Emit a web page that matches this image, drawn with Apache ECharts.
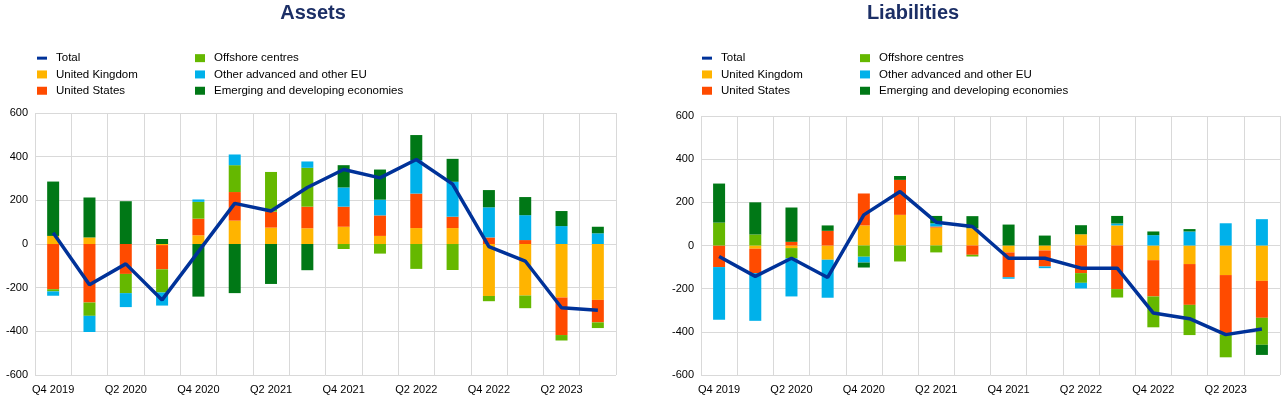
<!DOCTYPE html>
<html>
<head>
<meta charset="utf-8">
<script src="https://cdn.jsdelivr.net/npm/echarts@6/dist/echarts.min.js"></script>
<style>
  html, body { margin: 0; padding: 0; background: #ffffff; }
  #chart { width: 1286px; height: 398px; }
</style>
</head>
<body>
<div id="chart"></div>
<script>
// quarters Q4 2019 .. Q3 2023
const quarters = ['Q4 2019', 'Q1 2020', 'Q2 2020', 'Q3 2020', 'Q4 2020', 'Q1 2021', 'Q2 2021', 'Q3 2021',
    'Q4 2021', 'Q1 2022', 'Q2 2022', 'Q3 2022', 'Q4 2022', 'Q1 2023', 'Q2 2023', 'Q3 2023'];

const yTicks = { min: -600, max: 600, interval: 200 };

// Assets
const assetsUK = [37, 30, 0, -5, 40, 107, 75, 72, 79, 37, 73, 73, -238, -236, -245, -256];
const assetsUS = [-207, -268, -137, -111, 76, 131, 73, 99, 92, 94, 158, 52, 30, 18, -172, -103];
const assetsOffshore = [-10, -61, -88, -106, 77, 123, 182, 178, -23, -44, -114, -119, -24, -58, -25, -26];
const assetsOther = [-20, -74, -64, -60, 11, 49, 0, 29, 88, 72, 153, 160, 138, 114, 82, 49];
const assetsEM = [249, 183, 196, 23, -241, -225, -183, -120, 102, 138, 115, 105, 79, 83, 69, 30];
const assetsTotal = [52, -187, -91, -256, -35, 186, 151, 259, 341, 303, 387, 274, -12, -78, -292, -303];

// Liabilities
const liabUK = [0, -15, -12, -66, 93, 142, 83, 80, -32, -23, 52, 93, -68, -86, -137, -164];
const liabUS = [-100, -113, 17, 68, 148, 162, 5, -43, -115, -74, -128, -202, -168, -189, -276, -171];
const liabOffshore = [106, 51, -47, 0, -52, -74, -32, -8, 0, 0, -45, -39, -143, -140, -105, -125];
const liabOther = [-244, -221, -177, -176, -27, 0, 15, 0, -7, -8, -26, 9, 48, 65, 103, 122];
const liabEM = [181, 149, 159, 25, -23, 18, 34, 56, 97, 46, 42, 35, 17, 11, 0, -47];
const liabTotal = [-51, -143, -59, -148, 142, 250, 108, 88, -59, -59, -105, -105, -313, -339, -413, -387];

const names = ['Total', 'United Kingdom', 'United States', 'Offshore centres',
    'Other advanced and other EU', 'Emerging and developing economies'];
const colors = ['#003299', '#ffb400', '#ff4b00', '#65b800', '#00b1ea', '#007816'];

const chart = echarts.init(document.getElementById('chart'), null, { renderer: 'canvas' });

const font = 'Liberation Sans, Arial, sans-serif';

function legend(left, data) {
    return {
        orient: 'vertical',
        left: left,
        top: 50,
        itemWidth: 10,
        itemHeight: 8,
        itemGap: 0,
        padding: 0,
        selectedMode: false,
        textStyle: { fontFamily: font, fontSize: 11.5, color: '#000', lineHeight: 16.3, padding: [0, 0, 0, 4] },
        data: data.map(function (n) {
            if (n === 'Total') {
                return { name: n, icon: 'path://M0,0L10,0L10,3L0,3Z', itemStyle: { color: colors[0] } };
            }
            return { name: n, icon: 'rect' };
        })
    };
}

function xAxis(idx) {
    return {
        type: 'category',
        gridIndex: idx,
        data: quarters,
        boundaryGap: true,
        position: 'bottom',
        axisLine: { show: false, onZero: false },
        axisTick: { show: false },
        axisLabel: { interval: 1, fontFamily: font, fontSize: 11, color: '#000', margin: 9 },
        splitLine: { show: true, interval: 0, lineStyle: { color: '#d9d9d9', width: 1 } }
    };
}

function yAxis(idx) {
    return {
        type: 'value',
        gridIndex: idx,
        min: yTicks.min,
        max: yTicks.max,
        interval: yTicks.interval,
        axisLine: { show: false },
        axisTick: { show: false },
        axisLabel: { fontFamily: font, fontSize: 11, color: '#000', margin: 7 },
        splitLine: { lineStyle: { color: '#d9d9d9', width: 1 } }
    };
}

function bars(idx, stack, values) {
    return values.map(function (v, i) {
        return {
            name: names[i + 1],
            type: 'bar',
            xAxisIndex: idx,
            yAxisIndex: idx,
            stack: stack,
            barWidth: 12,
            itemStyle: { color: colors[i + 1] },
            data: v
        };
    });
}

function totalLine(idx, values) {
    return {
        name: 'Total',
        type: 'line',
        xAxisIndex: idx,
        yAxisIndex: idx,
        symbol: 'none',
        z: 5,
        lineStyle: { color: colors[0], width: 3.5 },
        itemStyle: { color: colors[0] },
        data: values
    };
}

var option = {
    backgroundColor: '#ffffff',
    animation: false,
    color: colors,
    title: [
        { text: 'Assets', left: 308, top: -2, textAlign: 'center',
          textStyle: { fontFamily: font, fontSize: 20, fontWeight: 'bold', color: '#1c2f66' } },
        { text: 'Liabilities', left: 908, top: -2, textAlign: 'center',
          textStyle: { fontFamily: font, fontSize: 20, fontWeight: 'bold', color: '#1c2f66' } }
    ],
    legend: [
        legend(37, names.slice(0, 3)),
        legend(195, names.slice(3)),
        legend(702, names.slice(0, 3)),
        legend(860, names.slice(3))
    ],
    grid: [
        { left: 35, right: 670, top: 113, bottom: 23 },
        { left: 701, right: 6, top: 116, bottom: 23 }
    ],
    xAxis: [xAxis(0), xAxis(1)],
    yAxis: [yAxis(0), yAxis(1)],
    series: []
        .concat(bars(0, 'assets', [assetsUK, assetsUS, assetsOffshore, assetsOther, assetsEM]))
        .concat([totalLine(0, assetsTotal)])
        .concat(bars(1, 'liab', [liabUK, liabUS, liabOffshore, liabOther, liabEM]))
        .concat([totalLine(1, liabTotal)])
};

chart.setOption(option);
</script>
</body>
</html>
